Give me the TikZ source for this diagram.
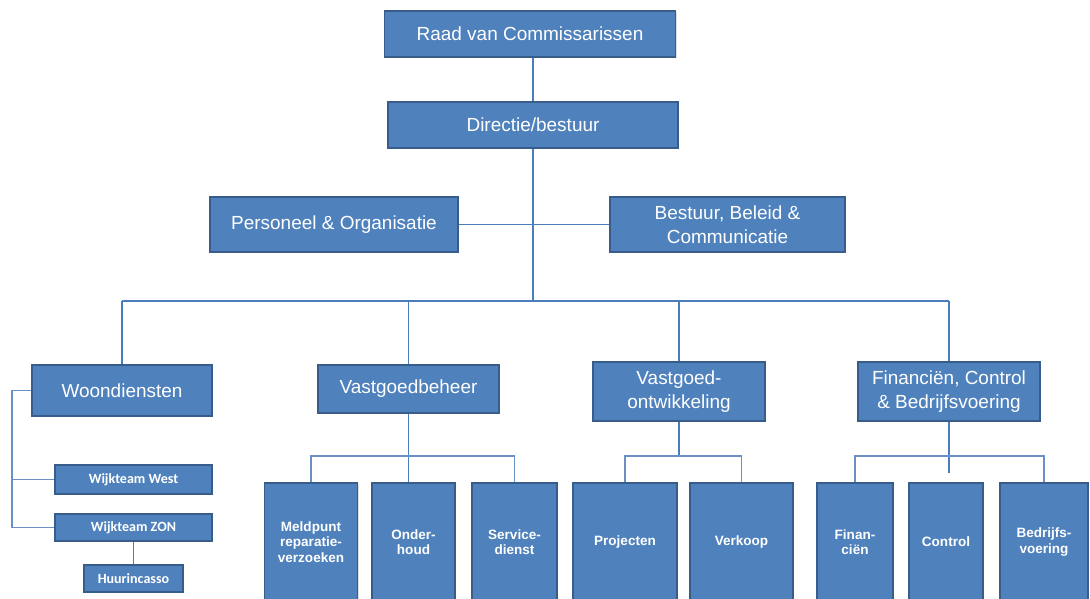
\documentclass[tikz,border=0pt]{standalone}
\usepackage{fontspec}
\setmainfont{Liberation Sans}
\newfontfamily\calfont{Carlito}
\usepackage{tikz}
\usetikzlibrary{calc,shadows}
\definecolor{boxfill}{HTML}{4F81BD}
\definecolor{boxline}{HTML}{385D8A}
\definecolor{wire}{HTML}{4A7EBB}
\definecolor{thinwire}{HTML}{6A90C6}
\tikzstyle{unit}  =[rectangle, draw=boxline, fill=boxfill, line width=0.9pt,
                    text=white, align=center, inner sep=1pt,
                    drop shadow={opacity=0.25, shadow xshift=0.8pt,
                    shadow yshift=-0.8pt},
                    font=\fontsize{10.8}{13.4}\selectfont]
\tikzstyle{team}  =[unit, font=\calfont\bfseries\fontsize{8}{9.6}\selectfont]
\tikzstyle{dept}  =[unit, minimum height=2.36cm,
                    font=\bfseries\fontsize{7.7}{8.9}\selectfont]
\tikzstyle{link}  =[draw=wire, line width=1.1pt]
\tikzstyle{thin}  =[draw=thinwire, line width=0.9pt]

\begin{document}
\begin{tikzpicture}[x=0.02cm, y=-0.02cm]
    \useasboundingbox (0,0) rectangle (1090,599);

    \node (raad) [unit, minimum width=5.82cm, minimum height=0.92cm] at (530,34)
        {Raad van Commissarissen};
    \node (dir) [unit, minimum width=5.8cm, minimum height=0.92cm] at (533,125)
        {Directie/bestuur};
    \node (po) [unit, minimum width=4.96cm, minimum height=1.1cm] at (334,224.5)
        {Personeel \& Organisatie};
    \node (bbc) [unit, minimum width=4.7cm, minimum height=1.1cm] at (727.5,224.5)
        {Bestuur, Beleid \&\\Communicatie};

    \node (woon) [unit, minimum width=3.6cm, minimum height=1.02cm] at (122,390.5)
        {Woondiensten};
    \node (vgb) [unit, minimum width=3.62cm, minimum height=0.96cm] at (408.5,389)
        {Vastgoedbeheer};
    \node (vgo) [unit, minimum width=3.44cm, minimum height=1.18cm] at (679,391.5)
        {Vastgoed-\\ontwikkeling};
    \node (fcb) [unit, minimum width=3.64cm, minimum height=1.18cm] at (949,391.5)
        {Financi\"en, Control\\\& Bedrijfsvoering};

    \node (west) [team, minimum width=3.14cm, minimum height=0.58cm] at (133.5,479.5)
        {Wijkteam West};
    \node (zon) [team, minimum width=3.14cm, minimum height=0.54cm] at (133.5,527.5)
        {Wijkteam ZON};
    \node (huur) [team, minimum width=1.98cm, minimum height=0.54cm] at (133.5,578.5)
        {Huurincasso};

    \node (meld) [dept, minimum width=1.86cm] at (311,542)
        {Meldpunt\\reparatie-\\verzoeken};
    \node (ond) [dept, minimum width=1.66cm] at (413.5,542) {Onder-\\houd};
    \node (serv) [dept, minimum width=1.7cm] at (514.5,542) {Service-\\dienst};
    \node (proj) [dept, minimum width=2.08cm] at (625,542) {Projecten};
    \node (verk) [dept, minimum width=2.06cm] at (741.5,542) {Verkoop};
    \node (fin) [dept, minimum width=1.52cm] at (855,542) {Finan-\\ci\"en};
    \node (ctrl) [dept, minimum width=1.48cm] at (946,542) {Control};
    \node (bedr) [dept, minimum width=1.76cm] at (1044,542) {Bedrijfs-\\voering};

    \coordinate (hub) at (533,301);
    \coordinate (wl) at (12,390.5);
    \coordinate (vgbbus) at (408,456);
    \coordinate (vgobus) at (679,456);
    \coordinate (fcbbus) at (949,456);

    \draw[link] (dir.north |- raad.south) -- (dir.north);
    \draw[link] (dir.south) -- (hub);
    \draw[link] (po.east) -- (bbc.west);
    \draw[link] (woon.north |- hub) -- (fcb.north |- hub);
    \draw[link] (woon.north) -- (woon.north |- hub);
    \draw[link] (vgb.north) -- (vgb.north |- hub);
    \draw[link] (vgo.north) -- (vgo.north |- hub);
    \draw[link] (fcb.north) -- (fcb.north |- hub);

    \draw[thin] (woon.west) -- (wl) |- (zon.west);
    \draw[thin] (west.west) -- (west.west -| wl);
    \draw[link] (zon.south) -- (huur.north);

    \draw[link] (vgb.south) -- (vgb.south |- ond.north);
    \draw[thin] (meld.north) -- (meld.north |- vgbbus) -- (serv.north |- vgbbus) -- (serv.north);

    \draw[link] (vgo.south) -- (vgobus);
    \draw[thin] (proj.north) -- (proj.north |- vgobus) -- (verk.north |- vgobus) -- (verk.north);

    \draw[link, shorten >=0.18cm] (fcb.south) -- (fcb.south |- ctrl.north);
    \draw[thin] (fin.north) -- (fin.north |- fcbbus) -- (bedr.north |- fcbbus) -- (bedr.north);
\end{tikzpicture}
\end{document}
